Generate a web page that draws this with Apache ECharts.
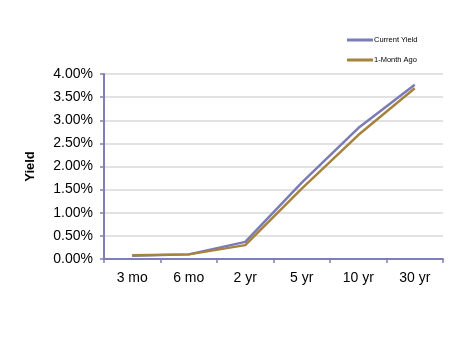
<!DOCTYPE html>
<html>
<head>
<meta charset="utf-8">
<script src="https://cdn.jsdelivr.net/npm/echarts@6/dist/echarts.min.js"></script>
<style>
  html, body { margin: 0; padding: 0; background: #fff; }
  #chart { width: 467px; height: 341px; }
</style>
</head>
<body>
<div id="chart"></div>
<script>
// Treasury maturities on the x axis
const maturities = ['3 mo', '6 mo', '2 yr', '5 yr', '10 yr', '30 yr'];
// Yields in percent
const currentYield = [0.07, 0.10, 0.37, 1.65, 2.83, 3.77];
const monthAgoYield = [0.08, 0.10, 0.30, 1.52, 2.68, 3.69];

const axisColor = '#7F7FB8';
const chart = echarts.init(document.getElementById('chart'));
chart.setOption({
  animation: false,
  backgroundColor: '#ffffff',
  textStyle: { fontFamily: 'Liberation Sans, Arial, sans-serif' },
  legend: {
    orient: 'vertical',
    left: 342,
    top: 31,
    itemGap: 12,
    itemWidth: 26,
    itemHeight: 3,
    icon: 'rect',
    textStyle: { fontSize: 7.5, color: '#000', padding: [0, 0, 0, -4] },
    data: ['Current Yield', '1-Month Ago']
  },
  grid: { left: 104, right: 24, top: 74, bottom: 82, containLabel: false },
  xAxis: {
    type: 'category',
    data: maturities,
    boundaryGap: true,
    axisLine: { lineStyle: { color: axisColor, width: 2 } },
    axisTick: { show: true, length: 4, alignWithLabel: false, lineStyle: { color: axisColor, width: 1.5 } },
    axisLabel: { color: '#000', fontSize: 14, margin: 12 }
  },
  yAxis: {
    type: 'value',
    min: 0,
    max: 4,
    interval: 0.5,
    name: 'Yield',
    nameLocation: 'middle',
    nameGap: 67,
    nameRotate: 90,
    nameTextStyle: { fontSize: 13, fontWeight: 'bold', color: '#000' },
    axisLine: { show: true, lineStyle: { color: axisColor, width: 2 } },
    axisTick: { show: true, length: 4, lineStyle: { color: axisColor, width: 1.5 } },
    axisLabel: { color: '#000', fontSize: 14, margin: 11, formatter: v => v.toFixed(2) + '%' },
    splitLine: { show: true, lineStyle: { color: '#D9D9D9', width: 1.5 } }
  },
  series: [
    {
      name: 'Current Yield',
      type: 'line',
      data: currentYield,
      symbol: 'none',
      lineStyle: { color: '#7B7BB8', width: 2.5 },
      itemStyle: { color: '#7B7BB8' }
    },
    {
      name: '1-Month Ago',
      type: 'line',
      data: monthAgoYield,
      symbol: 'none',
      lineStyle: { color: '#A5833F', width: 2.5 },
      itemStyle: { color: '#A5833F' }
    }
  ]
});
</script>
</body>
</html>
